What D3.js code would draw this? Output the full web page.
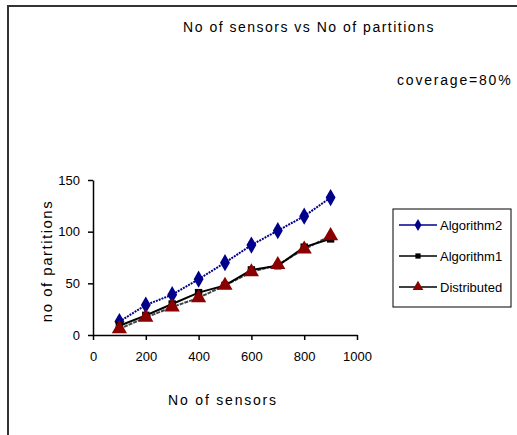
<!DOCTYPE html>
<html>
<head>
<meta charset="utf-8">
<script src="https://cdn.jsdelivr.net/npm/d3@7"></script>
<style>
  body { margin: 0; background: #fff; }
  text { font-family: "Liberation Sans", Arial, sans-serif; fill: #000; }
</style>
</head>
<body>
<div id="chart"></div>
<script>
// chart data
var sensors = [100, 200, 300, 400, 500, 600, 700, 800, 900];
var algorithm2 = [13, 29, 39, 54, 70, 87, 101, 115, 133];
var algorithm1 = [9, 19, 30, 41, 48, 63, 67, 85, 93];
var distributed = [6, 17, 27, 36, 48, 61, 68, 83, 96];
var xTicks = [0, 200, 400, 600, 800, 1000];
var yTicks = [0, 50, 100, 150];

var svgWidth = 517;
var svgHeight = 435;

var svg = d3.select("#chart")
  .append("svg")
  .attr("width", svgWidth)
  .attr("height", svgHeight);

// outer frame (runs off the right and bottom edges)
svg.append("rect")
  .attr("x", 8).attr("y", 6)
  .attr("width", 540).attr("height", 460)
  .attr("fill", "none")
  .attr("stroke", "#333")
  .attr("stroke-width", 2);

var xScale = d3.scaleLinear().domain([0, 1000]).range([93, 357]);
var yScale = d3.scaleLinear().domain([0, 150]).range([335, 180]);

// axes
svg.append("g")
  .attr("transform", "translate(0,335)")
  .call(d3.axisBottom(xScale).tickValues(xTicks).tickFormat(d3.format("d")).tickSize(5).tickSizeOuter(0).tickPadding(12))
  .call(g => g.selectAll("text").style("font-size", "13px").attr("font-family", null));

svg.append("g")
  .attr("transform", "translate(93,0)")
  .call(d3.axisLeft(yScale).tickValues(yTicks).tickSize(5).tickSizeOuter(0).tickPadding(8))
  .call(g => g.selectAll("text").style("font-size", "13px").attr("font-family", null));

svg.selectAll(".domain, .tick line").attr("stroke", "#000").attr("stroke-width", 1.5);

// titles
svg.append("text")
  .attr("x", 309).attr("y", 32)
  .attr("text-anchor", "middle")
  .style("font-size", "14px")
  .style("letter-spacing", "1.5px")
  .text("No of sensors vs No of partitions");

svg.append("text")
  .attr("x", 397).attr("y", 85)
  .style("font-size", "14px")
  .style("letter-spacing", "1.8px")
  .text("coverage=80%");

svg.append("text")
  .attr("transform", "translate(52,261) rotate(-90)")
  .attr("text-anchor", "middle")
  .style("font-size", "15px")
  .style("letter-spacing", "1.5px")
  .text("no of partitions");

svg.append("text")
  .attr("x", 223).attr("y", 405)
  .attr("text-anchor", "middle")
  .style("font-size", "14px")
  .style("letter-spacing", "1.8px")
  .text("No of sensors");

var series = [
  { name: "Distributed", values: distributed, line: "#444", dash: "4,1", marker: d3.symbolTriangle, fill: "#8b0000", size: 100 },
  { name: "Algorithm1", values: algorithm1, line: "#000", dash: null, marker: d3.symbolSquare, fill: "#000", size: 55 },
  { name: "Algorithm2", values: algorithm2, line: "#00008b", dash: "2,1", marker: d3.symbolDiamond, fill: "#00008b", size: 85 }
];

var line = d3.line()
  .x((d, i) => xScale(sensors[i]))
  .y(d => yScale(d));

series.forEach(function(s) {
  svg.append("path")
    .datum(s.values)
    .attr("d", line)
    .attr("fill", "none")
    .attr("stroke", s.line)
    .attr("stroke-width", 2)
    .attr("stroke-dasharray", s.dash);
});

// Distributed markers end up on top, as in the original
[series[2], series[1], series[0]].forEach(function(s) {
  svg.selectAll(null)
    .data(s.values)
    .enter()
    .append("path")
    .attr("d", d3.symbol().type(s.marker).size(s.size))
    .attr("transform", (d, i) => "translate(" + xScale(sensors[i]) + "," + yScale(d) + ")")
    .attr("fill", s.fill);
});

// legend
var legend = svg.append("g");
legend.append("rect")
  .attr("x", 393).attr("y", 209)
  .attr("width", 118).attr("height", 98)
  .attr("fill", "#fff")
  .attr("stroke", "#000")
  .attr("stroke-width", 1);

var legendItems = [series[2], series[1], series[0]];
var legendY = [225, 256, 287];

legendItems.forEach(function(s, i) {
  var y = legendY[i];
  legend.append("line")
    .attr("x1", 399).attr("x2", 437)
    .attr("y1", y).attr("y2", y)
    .attr("stroke", s.line === "#444" ? "#000" : s.line)
    .attr("stroke-width", 1.5);
  legend.append("path")
    .attr("d", d3.symbol().type(s.marker).size(s.size * 0.5))
    .attr("transform", "translate(418," + y + ")")
    .attr("fill", s.fill);
  legend.append("text")
    .attr("x", 440).attr("y", y + 5)
    .style("font-size", "13px")
    .text(s.name);
});
</script>
</body>
</html>
